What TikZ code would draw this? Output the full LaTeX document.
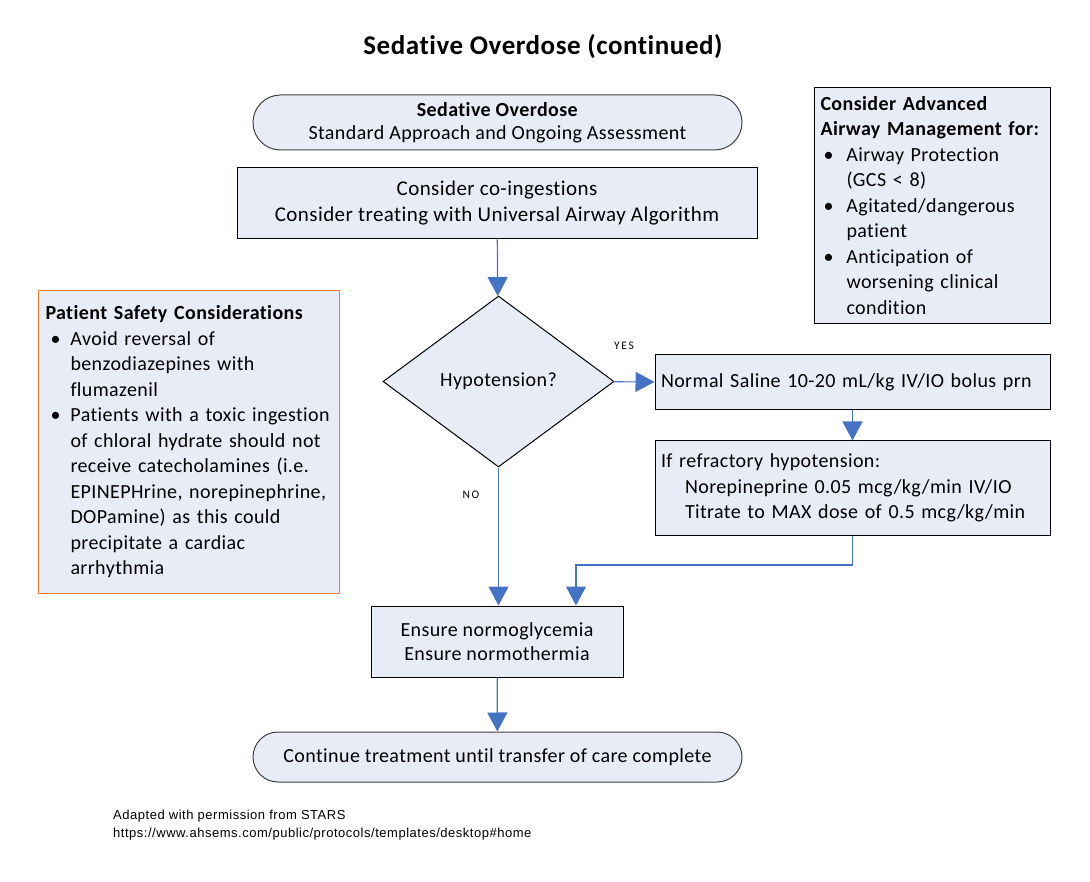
\documentclass[tikz,border=0pt]{standalone}
\usepackage{fontspec}
\setmainfont{Carlito}[LetterSpace=2,Ligatures=NoCommon]
\newfontfamily\notefont{Liberation Sans}[LetterSpace=4]
\usepackage{tikz}
\usetikzlibrary{arrows.meta,shapes.geometric,shapes.misc}
\usepackage{xcolor}
\definecolor{boxfill}{RGB}{232,236,246}
\definecolor{flowblue}{RGB}{68,114,196}
\definecolor{safeorange}{RGB}{237,125,49}

\begin{document}
\begin{tikzpicture}[x=1pt,y=-1pt,>={Triangle[width=20pt,length=19pt]},
  font=\fontsize{20}{25.5}\selectfont,
  box/.style={draw=black,line width=1pt,fill=boxfill,align=center,inner sep=0pt},
  term/.style={box,rounded rectangle,draw=black!75},
  flow/.style={->,draw=flowblue,line width=1.2pt},
  tag/.style={font=\fontsize{11.5}{12}\selectfont\addfontfeature{LetterSpace=14}}]
\useasboundingbox (0,0) rectangle (1090,882);
\node (title) at (543,47) {\fontsize{27}{30}\selectfont\bfseries Sedative Overdose (continued)};
\node[term,minimum width=489pt,minimum height=55pt,font=\fontsize{20}{23}\selectfont] (start) at (497.5,122.5) {\textbf{Sedative Overdose}\\Standard Approach and Ongoing Assessment};
\node[box,minimum width=520pt,minimum height=71pt,font=\fontsize{21}{26}\selectfont] (coing) at (497,203.5) {Consider co-ingestions\\Consider treating with Universal Airway Algorithm};
\node[box,diamond,minimum width=231pt,minimum height=171pt,shape aspect=1.35] (hypo) at (498.5,381.5) {Hypotension?};
\node[box,align=left,text width=383pt,inner xsep=6pt,minimum height=55pt] (saline) at (852.5,382.5) {Normal Saline 10-20 mL/kg IV/IO bolus prn};
\node[box,align=left,text width=383pt,inner xsep=6pt,minimum height=94pt] (refr) at (852.5,488) {If refractory hypotension:\\\hspace*{24pt}Norepineprine 0.05 mcg/kg/min IV/IO\\\hspace*{24pt}Titrate to MAX dose of 0.5 mcg/kg/min};
\node[box,minimum width=252pt,minimum height=71pt,font=\fontsize{20}{24}\selectfont] (ensure) at (497,641.5) {Ensure normoglycemia\\Ensure normothermia};
\node[term,minimum width=489pt,minimum height=50pt] (cont) at (497.5,757) {Continue treatment until transfer of care complete};
\node[box,draw=safeorange,anchor=north west,align=left,text width=287pt,inner xsep=7pt,minimum height=303pt] (safety) at (38,290) {\textbf{Patient Safety Considerations}\\
\hspace*{5pt}\makebox[20pt][l]{\textbullet}Avoid reversal of\\
\hspace*{25pt}benzodiazepines with\\
\hspace*{25pt}flumazenil\\
\hspace*{5pt}\makebox[20pt][l]{\textbullet}Patients with a toxic ingestion\\
\hspace*{25pt}of chloral hydrate should not\\
\hspace*{25pt}receive catecholamines (i.e.\\
\hspace*{25pt}EPINEPHrine, norepinephrine,\\
\hspace*{25pt}DOPamine) as this could\\
\hspace*{25pt}precipitate a cardiac\\
\hspace*{25pt}arrhythmia};
\node[box,anchor=north west,align=left,text width=224pt,inner xsep=6pt,minimum height=236pt] (airway) at (814,87) {\textbf{Consider Advanced}\\
\textbf{Airway Management for:}\\
\hspace*{3pt}\makebox[23pt][l]{\textbullet}Airway Protection\\
\hspace*{26pt}(GCS < 8)\\
\hspace*{3pt}\makebox[23pt][l]{\textbullet}Agitated/dangerous\\
\hspace*{26pt}patient\\
\hspace*{3pt}\makebox[23pt][l]{\textbullet}Anticipation of\\
\hspace*{26pt}worsening clinical\\
\hspace*{26pt}condition};
\node[tag] (yes) at (624,346) {YES};
\node[tag] (no) at (471,495) {NO};
\coordinate (bend) at (576,565);
\draw[flow] (coing) -- (hypo);
\draw[flow] (hypo) -- (saline);
\draw[flow] (saline) -- (refr);
\draw[flow] (hypo.south) -- (hypo.south |- ensure.north);
\draw[flow] (refr.south) |- (bend) -- (bend |- ensure.north);
\draw[flow] (ensure) -- (cont);
\node[anchor=north west,align=left,inner sep=0pt,font=\notefont\fontsize{13}{18}\selectfont] (note) at (113,810) {Adapted with permission from STARS\\https://www.ahsems.com/public/protocols/templates/desktop\#home};
\end{tikzpicture}
\end{document}
